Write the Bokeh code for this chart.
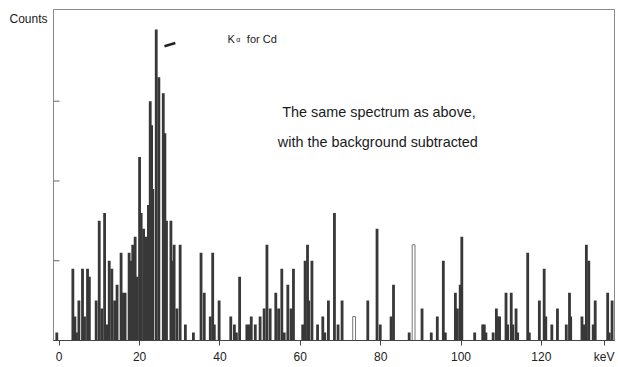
from bokeh.plotting import figure
from bokeh.models import (Range1d, Label, FixedTicker, Arrow, ColumnDataSource,
                          LinearAxis)
from bokeh.embed import file_html
from bokeh.resources import INLINE

# ---- data (keV, counts) ----
energies = [-0.6, 3.4, 3.9, 4.3, 4.9, 5.8, 6.3, 7.05, 7.5, 9.2, 9.96, 10.6, 11.3, 11.8,
            12.45, 13.1, 13.8, 14.4, 15.4, 15.9, 16.4, 17.4, 17.9, 18.3, 18.9, 19.4,
            20.0, 20.4, 21.0, 21.6, 22.2, 22.65, 23.0, 23.3, 24.15, 24.8, 25.9, 26.3,
            26.7, 27.8, 28.2, 28.6, 29.3, 30.1, 31.4,
            33.4, 35.3, 36.1, 37.6, 38.2, 38.6, 39.8, 42.7, 43.6, 44.1, 44.9, 46.7,
            47.3, 47.8, 48.8, 50.0, 51.0, 51.7, 52.5, 53.9, 54.6, 55.4, 56.0, 56.9,
            57.7, 58.3, 60.6, 61.2, 61.8, 62.1, 62.9, 64.3, 65.6, 66.1, 67.0, 68.5,
            69.4, 70.4, 76.8, 79.1, 79.9, 82.6, 83.2, 87.1, 90.3, 92.6, 94.1, 95.6,
            96.1, 98.6, 99.1, 99.8, 100.2, 103.4, 105.4, 105.8, 106.2, 108.0, 108.8,
            109.2, 109.6, 111.2, 111.6, 112.5, 112.9, 113.7, 114.1, 116.6, 117.0,
            119.5, 120.7, 121.1, 122.6, 124.0, 126.2, 127.0, 127.3, 130.1, 130.6,
            131.2, 131.8, 132.9, 133.4, 136.5, 136.9, 137.6]
counts = [1, 9, 3, 1, 5, 9, 3, 9, 8, 5, 15, 4, 16, 2,
          10, 9, 5, 7, 11, 6, 6, 11, 10, 12, 13, 8,
          23, 16, 14, 13, 17, 30, 27, 19, 39, 33, 31, 26,
          15, 15, 10, 12, 4, 12, 2,
          1, 11, 6, 3, 11, 2, 5, 3, 2, 1, 8, 2,
          2, 3, 2, 3, 4, 12, 4, 6, 4, 9, 1, 7,
          4, 9, 2, 10, 12, 5, 10, 2, 3, 1, 5, 16,
          2, 5, 5, 14, 2, 3, 7, 1, 4, 1, 3, 10,
          1, 6, 4, 7, 13, 1, 2, 2, 1, 1, 4,
          3, 3, 6, 2, 6, 2, 4, 1, 11, 1,
          5, 9, 3, 2, 4, 2, 6, 3, 3, 2,
          12, 10, 2, 5, 6, 1, 5]
hollow_energies = [73.4, 88.2]
hollow_counts = [3, 12]

x_ticks = [0, 20, 40, 60, 80, 100, 120]
y_ticks = [10, 20, 30]

FONT = "Liberation Sans"
X0, X1 = -1.42, 138.2
Y0, Y1 = 0, 41.5

p = figure(width=617, height=366, output_backend="svg", toolbar_location=None,
           x_range=Range1d(X0, X1), y_range=Range1d(Y0, Y1),
           x_axis_location=None, y_axis_location=None,
           min_border_left=53, min_border_right=3, min_border_top=9,
           min_border_bottom=25)
p.xgrid.visible = False
p.ygrid.visible = False
p.outline_line_color = "#888888"
p.background_fill_color = "white"
p.border_fill_color = "white"

src = ColumnDataSource(dict(e=energies, c=counts))
p.vbar(x="e", top="c", bottom=0, width=0.7, source=src,
       fill_color="#383838", line_color=None)
hsrc = ColumnDataSource(dict(e=hollow_energies, c=hollow_counts))
p.vbar(x="e", top="c", bottom=0, width=0.7, source=hsrc,
       fill_color="white", line_color="#777777", line_width=1)

# inward y ticks (no labels), drawn through the data scales
p.segment(x0=[X0] * len(y_ticks), x1=[X0 + 1.5] * len(y_ticks),
          y0=y_ticks, y1=y_ticks, line_color="#666666", line_width=1)

# bottom axis
xa = LinearAxis(ticker=FixedTicker(ticks=x_ticks))
xa.major_tick_out = 5
xa.major_tick_in = 0
xa.minor_tick_line_color = None
xa.axis_line_color = "#444444"
xa.major_tick_line_color = "#444444"
xa.major_label_text_font = FONT
xa.major_label_text_font_size = "12px"
xa.major_label_text_color = "#222222"
xa.major_label_standoff = 4
xa.axis_label = "keV"
xa.axis_label_text_font = FONT
xa.axis_label_text_font_size = "12px"
xa.axis_label_text_font_style = "normal"
xa.axis_label_text_color = "#222222"
try:
    xa.axis_label_align = "right"
    xa.axis_label_standoff = -14
except Exception:
    # fallback: show the unit as an extra tick label
    xa.axis_label = None
    kev_pos = 135.6
    xa.ticker = FixedTicker(ticks=x_ticks + [kev_pos])
    xa.major_label_overrides = {kev_pos: "keV"}
p.add_layout(xa, "below")

# left axis carrying only the "Counts" caption
count_pos = 40.3
ya = LinearAxis(ticker=FixedTicker(ticks=[count_pos]),
                major_label_overrides={count_pos: "Counts"})
ya.axis_line_color = None
ya.major_tick_line_color = None
ya.minor_tick_line_color = None
ya.major_tick_in = 0
ya.major_tick_out = 0
ya.major_label_standoff = 6
ya.major_label_orientation = "horizontal"
ya.major_label_text_font = FONT
ya.major_label_text_font_size = "12px"
ya.major_label_text_color = "#1a1a1a"
p.add_layout(ya, "left")

def lab(x, y, text, size, align="left", baseline="alphabetic"):
    p.add_layout(Label(x=x, y=y, text=text, text_font=FONT, text_font_size=size,
                       text_color="#1a1a1a", text_align=align, text_baseline=baseline))

lab(41.9, 37.85, "K", "11px")
lab(44.06, 37.7, "\u03b1", "7px")
lab(46.7, 37.85, "for Cd", "11px")
lab(79.6, 28.6, "The same spectrum as above,", "14.4px", align="center")
lab(79.3, 24.9, "with the background subtracted", "14.4px", align="center")

p.add_layout(Arrow(end=None, x_start=26.2, y_start=36.9, x_end=28.9, y_end=37.3,
                   line_width=2.5, line_color="#222222"))

open("out.html", "w").write(file_html(p, INLINE))
